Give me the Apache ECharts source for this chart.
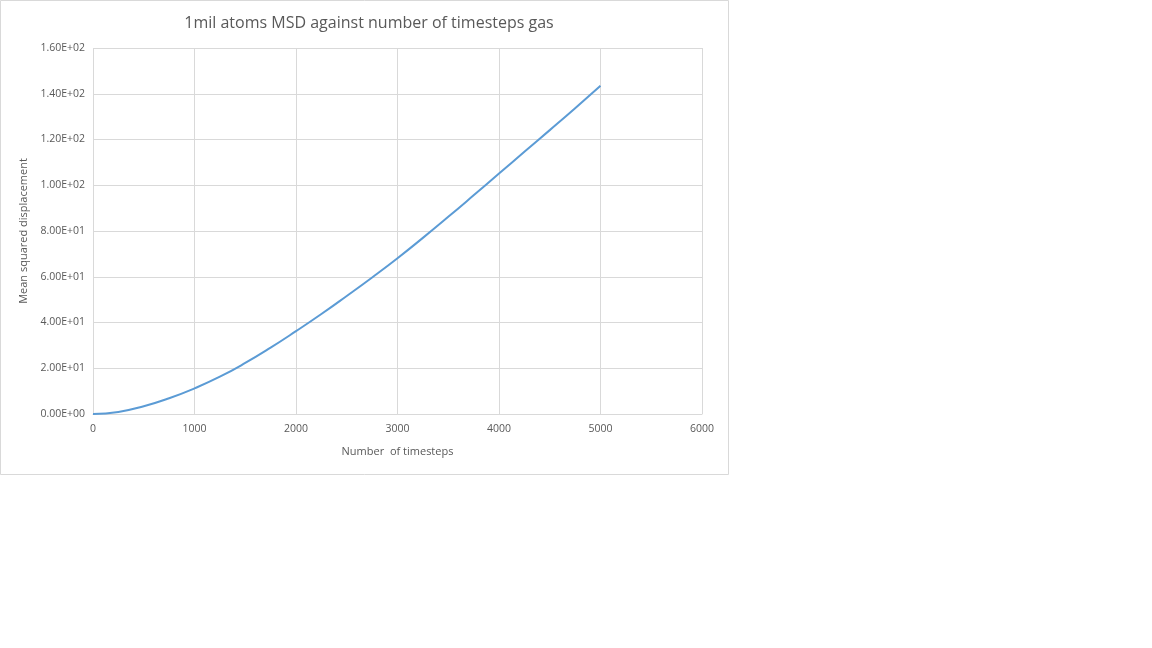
<!DOCTYPE html>
<html>
<head>
<meta charset="utf-8">
<script src="https://cdn.jsdelivr.net/npm/echarts@6/dist/echarts.min.js"></script>
<style>
html,body{margin:0;padding:0;background:#fff;}
#chart{width:1152px;height:648px;}
</style>
</head>
<body>
<div id="chart"></div>
<script>
var timesteps = [0, 250, 500, 750, 1000, 1250, 1500, 1750, 2000, 2250, 2500, 2750, 3000, 3250, 3500, 3750, 4000, 4250, 4500, 4750, 5000];
var msd = [0, 0.9, 3.4, 6.9, 11.2, 16.3, 22.3, 29.0, 36.2, 43.7, 51.6, 59.7, 68.1, 77.0, 86.2, 95.6, 105.1, 114.6, 124.1, 133.7, 143.5];
var titleText = '1mil atoms MSD against number of timesteps gas';
var xName = 'Number  of timesteps';
var yName = 'Mean squared displacement';

function sci(v) {
  if (v === 0) return '0.00E+00';
  var e = Math.floor(Math.log10(Math.abs(v)));
  var m = v / Math.pow(10, e);
  var es = (e < 0 ? '-' : '+') + (Math.abs(e) < 10 ? '0' : '') + Math.abs(e);
  return m.toFixed(2) + 'E' + es;
}

var chart = echarts.init(document.getElementById('chart'));
var font = 'Open Sans';
chart.setOption({
  animation: false,
  backgroundColor: '#fff',
  title: {
    text: titleText,
    left: 364,
    top: 10,
    textAlign: 'center',
    textStyle: {fontFamily: font, fontSize: 16, fontWeight: 'normal', color: '#595959'}
  },
  graphic: [{
    type: 'rect',
    shape: {x: 0.5, y: 0.5, width: 728, height: 474},
    style: {fill: 'none', stroke: '#d9d9d9', lineWidth: 1},
    silent: true,
    z: -1
  }],
  grid: {left: 93, right: 450, top: 48, bottom: 234},
  xAxis: {
    type: 'value',
    min: 0, max: 6000, interval: 1000,
    name: xName,
    nameLocation: 'middle',
    nameGap: 32,
    nameTextStyle: {fontFamily: font, fontSize: 11, color: '#595959'},
    axisLine: {show: true, lineStyle: {color: '#d9d9d9'}},
    axisTick: {show: false},
    axisLabel: {fontFamily: font, fontSize: 10.5, color: '#595959', margin: 10, formatter: function (v) { return String(v); }},
    splitLine: {show: true, lineStyle: {color: '#d9d9d9'}}
  },
  yAxis: {
    type: 'value',
    min: 0, max: 160, interval: 20,
    name: yName,
    nameLocation: 'middle',
    nameGap: 58,
    nameTextStyle: {fontFamily: font, fontSize: 11, color: '#595959'},
    axisLine: {show: false},
    axisTick: {show: false},
    axisLabel: {fontFamily: font, fontSize: 10.5, color: '#595959', margin: 8, formatter: sci},
    splitLine: {show: true, lineStyle: {color: '#d9d9d9'}}
  },
  series: [{
    type: 'line',
    data: timesteps.map(function (t, i) { return [t, msd[i]]; }),
    smooth: true,
    showSymbol: false,
    lineStyle: {color: '#5b9bd5', width: 2}
  }]
});
</script>
</body>
</html>
